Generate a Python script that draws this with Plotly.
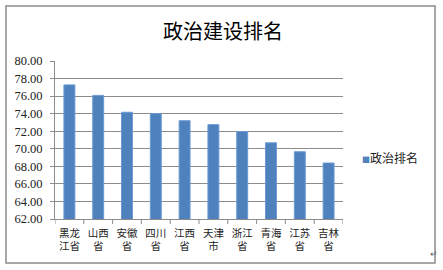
import plotly.graph_objects as go

categories = ["黑龙<br>江省", "山西<br>省", "安徽<br>省", "四川<br>省", "江西<br>省",
              "天津<br>市", "浙江<br>省", "青海<br>省", "江苏<br>省", "吉林<br>省"]
values = [77.28, 76.08, 74.16, 74.00, 73.20, 72.75, 71.96, 70.68, 69.66, 68.38]
series_name = "政治排名"
title_text = "政治建设排名"
y_ticks = [62, 64, 66, 68, 70, 72, 74, 76, 78, 80]

W, H = 443, 270
L, R, T, B = 55, 100, 61, 51
pw, ph = W - L - R, H - T - B
bar_color = "#4F81BD"

def px(x):
    return (x - L) / pw

def py(y):
    return (H - B - y) / ph

fig = go.Figure()
fig.add_trace(go.Bar(
    x=categories, y=values, name=series_name,
    marker=dict(color=bar_color, line=dict(color="#6a9ad6", width=1)),
    width=0.38, showlegend=False,
))

gray = "#8c8c8c"
shapes = [dict(type="rect", xref="paper", yref="paper",
               x0=px(6), x1=px(435), y0=py(263), y1=py(6),
               line=dict(color=gray, width=1.5), layer="below")]
for i in range(len(categories) + 1):
    shapes.append(dict(type="line", xref="x", yref="paper",
                       x0=i - 0.5, x1=i - 0.5, y0=0, y1=-5 / ph,
                       line=dict(color=gray, width=1)))

fig.update_layout(
    width=W, height=H,
    margin=dict(l=L, r=R, t=T, b=B, autoexpand=False),
    paper_bgcolor="white", plot_bgcolor="white",
    title=dict(text=title_text, x=223 / W, xanchor="center", y=1 - 32 / H, yanchor="middle",
               font=dict(family="Noto Sans CJK SC", size=20, color="black")),
    showlegend=False,
    shapes=shapes,
    annotations=[
        dict(text=f'<span style="color:{bar_color};font-size:8px">■</span>{series_name}',
             xref="paper", yref="paper", x=px(360), y=py(157), xanchor="left", yanchor="middle",
             showarrow=False, font=dict(family="Noto Sans CJK SC", size=12, color="#222")),
        dict(text="↵", xref="paper", yref="paper", x=px(440), y=py(262),
             showarrow=False, font=dict(size=9, color="#666")),
    ],
)

fig.update_yaxes(range=[62, 80], tickvals=y_ticks, ticktext=[f"{v:.2f}" for v in y_ticks],
                 showgrid=True, gridcolor=gray, gridwidth=1,
                 showline=True, linecolor=gray, linewidth=1,
                 ticks="outside", ticklen=4, tickcolor=gray, ticklabelstandoff=5,
                 tickfont=dict(family="Liberation Serif", size=12.5, color="#222"),
                 zeroline=False)
fig.update_xaxes(range=[-0.5, len(categories) - 0.5],
                 showgrid=False, showline=True, linecolor=gray, linewidth=1,
                 ticks="", ticklabelstandoff=4,
                 tickfont=dict(family="Noto Sans CJK SC", size=10.5, color="#222"),
                 tickangle=0)

fig.write_html("out.html")
